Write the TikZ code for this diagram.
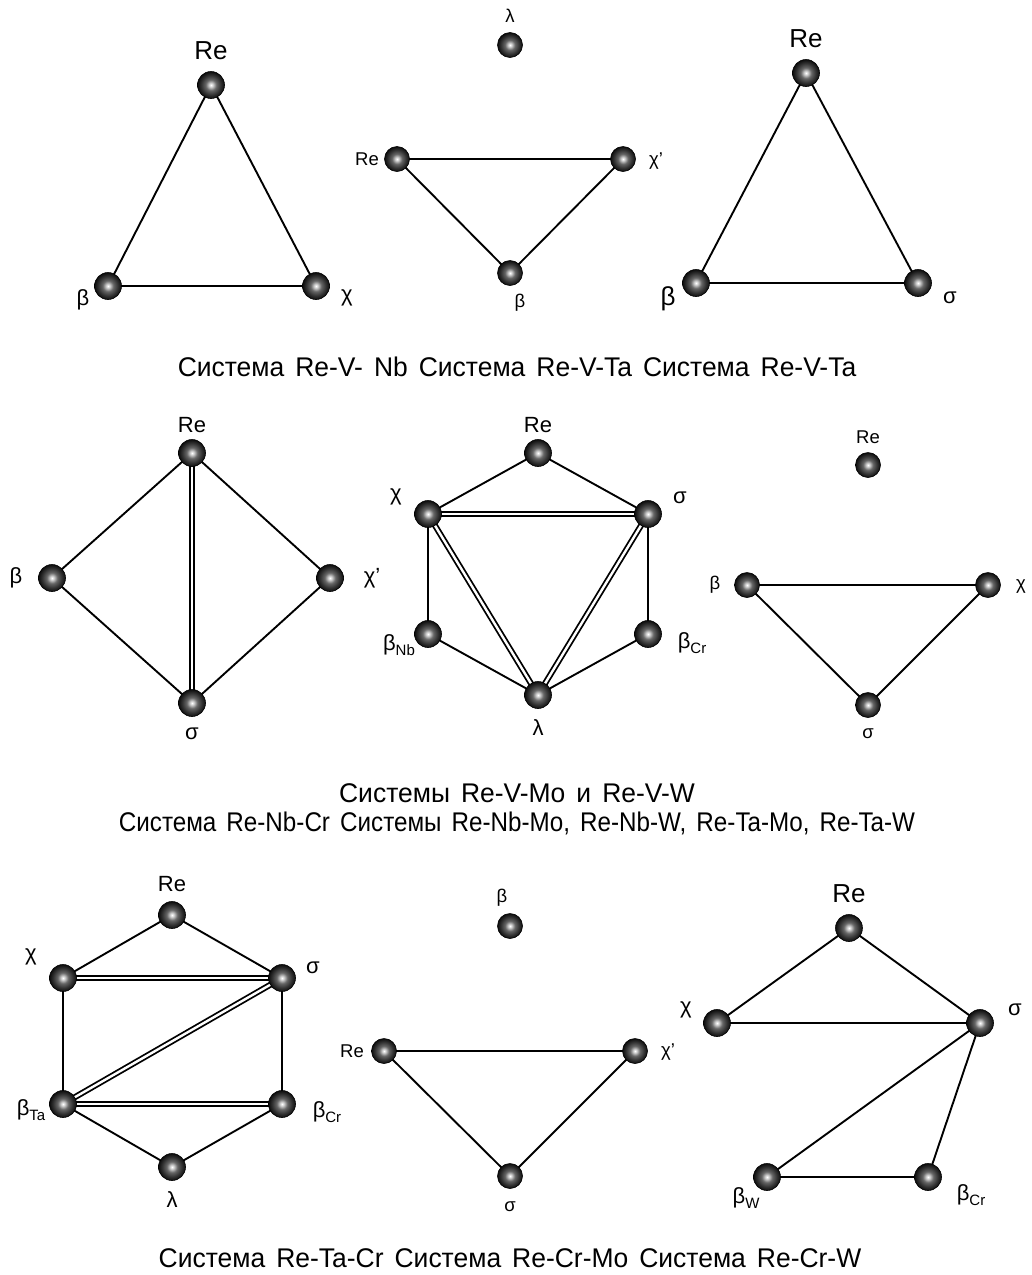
\documentclass[tikz,border=0pt]{standalone}
\usepackage{fontspec}
\usepackage{graphicx}
\setmainfont{Liberation Sans}
\newfontfamily\capfont[FakeStretch=0.98,WordSpace={1.5,0,0}]{Liberation Sans}
\usetikzlibrary{backgrounds}
\pgfdeclareradialshading{sphere}{\pgfpoint{0bp}{0bp}}{color(0bp)=(white); color(3bp)=(white!85!black); color(10bp)=(black!60); color(18bp)=(black!80); color(25bp)=(black!95); color(50bp)=(black)}
\tikzset{
  ball/.style={circle, minimum size=#1, inner sep=0pt, shading=sphere, draw=black, line width=0.6pt},
  ball/.default=27pt,
  edge/.style={line width=1.9pt},
  dbl/.style={double=white, double distance=2.4pt, line width=1.8pt},
  lbl/.style={font=\fontsize{22}{22}\selectfont, inner sep=0pt},
  lblbig/.style={font=\fontsize{26}{26}\selectfont, inner sep=0pt},
  lblsm/.style={font=\fontsize{18.5}{18.5}\selectfont, inner sep=0pt},
  captext/.style={font=\capfont\fontsize{27}{27}\selectfont, inner sep=0pt},
}
\newcommand{\subb}[1]{\raisebox{-0.45ex}{\fontsize{15}{15}\selectfont #1}}
\begin{document}
\begin{tikzpicture}[x=1pt,y=-1pt]
\useasboundingbox (0,0) rectangle (1032,1275);

% ---------- Graph 1 ----------
\node[ball] (a1) at (211,85) {};
\node[ball] (a2) at (108,286) {};
\node[ball] (a3) at (316,286) {};
\node[lblbig] (la1) at (211,51) {Re};
\node[lbl] (la2) at (83,300) {β};
\node[lbl] (la3) at (347,298) {χ};
\begin{pgfonlayer}{background}
\draw[edge] (a1.center)--(a2.center) (a1.center)--(a3.center) (a2.center)--(a3.center);
\end{pgfonlayer}

% ---------- Graph 2 ----------
\node[ball=25pt] (b0) at (510,45) {};
\node[ball=25pt] (b1) at (397,159) {};
\node[ball=25pt] (b2) at (623,159) {};
\node[ball=25pt] (b3) at (510,273) {};
\node[lblsm] (lb0) at (510,16) {λ};
\node[lblsm] (lb1) at (367,159) {Re};
\node[lblsm] (lb2) at (656,161) {χ'};
\node[lblsm] (lb3) at (520,303) {β};
\begin{pgfonlayer}{background}
\draw[edge] (b1.center)--(b2.center) (b1.center)--(b3.center) (b2.center)--(b3.center);
\end{pgfonlayer}

% ---------- Graph 3 ----------
\node[ball] (c1) at (806,73) {};
\node[ball] (c2) at (696,283) {};
\node[ball] (c3) at (918,283) {};
\node[lblbig] (lc1) at (806,39) {Re};
\node[lblbig] (lc2) at (668,299) {β};
\node[lbl] (lc3) at (950,298) {σ};
\begin{pgfonlayer}{background}
\draw[edge] (c1.center)--(c2.center) (c1.center)--(c3.center) (c2.center)--(c3.center);
\end{pgfonlayer}

\node[captext] (cap1) at (517,367) {Система Re-V- Nb Система Re-V-Ta Система Re-V-Ta};

% ---------- Graph 4 ----------
\node[ball] (d1) at (192,453) {};
\node[ball] (d2) at (52,578) {};
\node[ball] (d3) at (330,578) {};
\node[ball] (d4) at (192,703) {};
\node[lbl] (ld1) at (192,425) {Re};
\node[lbl] (ld2) at (16,578) {β};
\node[lbl] (ld3) at (372,578) {χ'};
\node[lbl] (ld4) at (192,734) {σ};
\begin{pgfonlayer}{background}
\draw[edge] (d1.center)--(d2.center) (d1.center)--(d3.center) (d2.center)--(d4.center) (d3.center)--(d4.center);
\draw[dbl] (d1.center)--(d4.center);
\end{pgfonlayer}

% ---------- Graph 5 ----------
\node[ball] (e1) at (538,453) {};
\node[ball] (e2) at (428,514) {};
\node[ball] (e3) at (648,514) {};
\node[ball] (e4) at (428,634) {};
\node[ball] (e5) at (648,634) {};
\node[ball] (e6) at (538,695) {};
\node[lbl] (le1) at (538,425) {Re};
\node[lbl] (le2) at (396,497) {χ};
\node[lbl] (le3) at (680,498) {σ};
\node[lbl] (le4) at (399,645) {β\subb{Nb}};
\node[lbl] (le5) at (692,643) {β\subb{Cr}};
\node[lbl] (le6) at (538,728) {λ};
\begin{pgfonlayer}{background}
\draw[edge] (e1.center)--(e2.center) (e1.center)--(e3.center) (e2.center)--(e4.center) (e3.center)--(e5.center) (e4.center)--(e6.center) (e5.center)--(e6.center);
\draw[dbl] (e2.center)--(e3.center);
\draw[dbl] (e2.center)--(e6.center);
\draw[dbl] (e3.center)--(e6.center);
\end{pgfonlayer}

% ---------- Graph 6 ----------
\node[ball=25pt] (f0) at (868,465) {};
\node[ball=25pt] (f1) at (747,585) {};
\node[ball=25pt] (f2) at (988,585) {};
\node[ball=25pt] (f3) at (868,705) {};
\node[lblsm] (lf0) at (868,437) {Re};
\node[lblsm] (lf1) at (715,585) {β};
\node[lblsm] (lf2) at (1021,586) {χ};
\node[lblsm] (lf3) at (868,734) {σ};
\begin{pgfonlayer}{background}
\draw[edge] (f1.center)--(f2.center) (f1.center)--(f3.center) (f2.center)--(f3.center);
\end{pgfonlayer}

\node[captext] (cap2a) at (517,793) {Системы Re-V-Mo и Re-V-W};
\node[captext] (cap2b) at (517,823) {\scalebox{0.915}[1]{Система Re-Nb-Cr Системы Re-Nb-Mo, Re-Nb-W, Re-Ta-Mo, Re-Ta-W}};

% ---------- Graph 7 ----------
\node[ball] (g1) at (172,915) {};
\node[ball] (g2) at (63,978) {};
\node[ball] (g3) at (282,978) {};
\node[ball] (g4) at (63,1104) {};
\node[ball] (g5) at (282,1104) {};
\node[ball] (g6) at (172,1167) {};
\node[lbl] (lg1) at (172,884) {Re};
\node[lbl] (lg2) at (31,957) {χ};
\node[lbl] (lg3) at (313,968) {σ};
\node[lbl] (lg4) at (31,1110) {β\subb{Ta}};
\node[lbl] (lg5) at (327,1112) {β\subb{Cr}};
\node[lbl] (lg6) at (172,1200) {λ};
\begin{pgfonlayer}{background}
\draw[edge] (g1.center)--(g2.center) (g1.center)--(g3.center) (g2.center)--(g4.center) (g3.center)--(g5.center) (g4.center)--(g6.center) (g5.center)--(g6.center);
\draw[dbl] (g2.center)--(g3.center);
\draw[dbl] (g3.center)--(g4.center);
\draw[dbl] (g4.center)--(g5.center);
\end{pgfonlayer}

% ---------- Graph 8 ----------
\node[ball=25pt] (h0) at (510,926) {};
\node[ball=25pt] (h1) at (384,1051) {};
\node[ball=25pt] (h2) at (635,1051) {};
\node[ball=25pt] (h3) at (510,1176) {};
\node[lblsm] (lh0) at (502,898) {β};
\node[lblsm] (lh1) at (352,1051) {Re};
\node[lblsm] (lh2) at (668,1052) {χ'};
\node[lblsm] (lh3) at (510,1207) {σ};
\begin{pgfonlayer}{background}
\draw[edge] (h1.center)--(h2.center) (h1.center)--(h3.center) (h2.center)--(h3.center);
\end{pgfonlayer}

% ---------- Graph 9 ----------
\node[ball] (k1) at (849,928) {};
\node[ball] (k2) at (717,1023) {};
\node[ball] (k3) at (980,1023) {};
\node[ball] (k4) at (767,1177) {};
\node[ball] (k5) at (928,1177) {};
\node[lblbig] (lk1) at (849,894) {Re};
\node[lbl] (lk2) at (686,1010) {χ};
\node[lbl] (lk3) at (1015,1010) {σ};
\node[lbl] (lk4) at (746,1198) {β\subb{W}};
\node[lbl] (lk5) at (971,1195) {β\subb{Cr}};
\begin{pgfonlayer}{background}
\draw[edge] (k1.center)--(k2.center) (k1.center)--(k3.center) (k2.center)--(k3.center) (k3.center)--(k4.center) (k3.center)--(k5.center) (k4.center)--(k5.center);
\end{pgfonlayer}

\node[captext] (cap3) at (510,1258) {Система Re-Ta-Cr Система Re-Cr-Mo Система Re-Cr-W};
\end{tikzpicture}
\end{document}
